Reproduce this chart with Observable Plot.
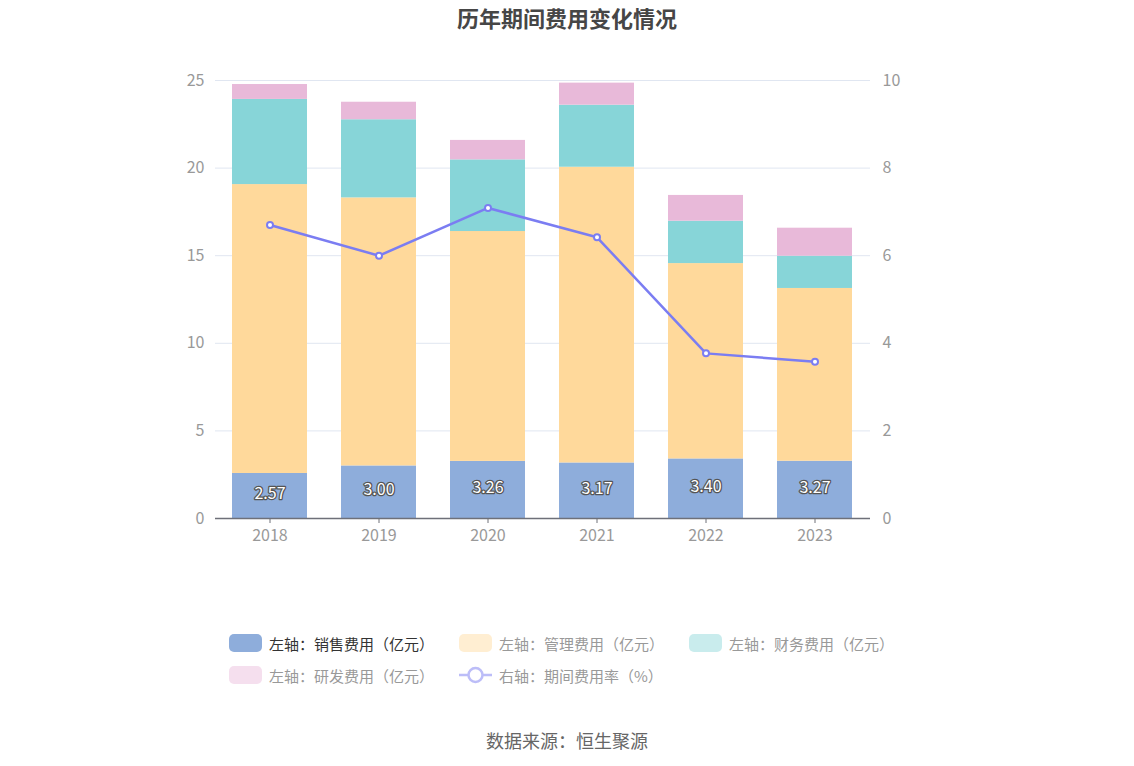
<!DOCTYPE html>
<html>
<head>
<meta charset="utf-8">
<script src="https://cdn.jsdelivr.net/npm/d3@7"></script>
<script src="https://cdn.jsdelivr.net/npm/@observablehq/plot@0.6"></script>
<style>
  html, body { margin: 0; padding: 0; background: #fff; }
  body { width: 1134px; height: 766px; position: relative; overflow: hidden;
         font-family: "Noto Sans CJK SC", "Noto Sans", sans-serif; }
  #title { position: absolute; top: 1px; left: 0; width: 1134px; text-align: center;
           font-size: 22px; font-weight: bold; color: #464646; }
  #chart { position: absolute; top: 0; left: 0; }
  .leg { position: absolute; display: flex; align-items: center; font-size: 15px; color: #999; white-space: nowrap; }
  .sw { width: 33px; height: 18px; border-radius: 5px; margin-right: 7px; }
  #source { position: absolute; top: 727px; left: 0; width: 1134px; text-align: center; font-size: 18px; color: #666; }
</style>
</head>
<body>
<div id="chart"></div>
<div id="title">历年期间费用变化情况</div>
<div id="legend"></div>
<div id="source">数据来源：恒生聚源</div>
<script>
const years = ["2018", "2019", "2020", "2021", "2022", "2023"];
const sales = [2.57, 3.00, 3.26, 3.17, 3.40, 3.27];
const admin = [16.49, 15.30, 13.12, 16.88, 11.15, 9.86];
const finance = [4.86, 4.46, 4.09, 3.54, 2.42, 1.84];
const rnd = [0.85, 1.00, 1.11, 1.26, 1.47, 1.60];
const rate = [6.70, 6.00, 7.09, 6.42, 3.77, 3.58];
const seriesNames = ["左轴：销售费用（亿元）", "左轴：管理费用（亿元）", "左轴：财务费用（亿元）", "左轴：研发费用（亿元）"];
const lineName = "右轴：期间费用率（%）";
const colors = ["#8eaddb", "#ffd99b", "#87d5d8", "#e8b9d9"];
const lineColor = "#7b7df2";
const leftTicks = [0, 5, 10, 15, 20, 25];
const rightTicks = [0, 2, 4, 6, 8, 10];
const ratio = 25 / 10;

const seriesValues = [sales, admin, finance, rnd];
const stacked = [];
years.forEach((y, i) => {
  seriesValues.forEach((arr, s) => {
    stacked.push({year: y, series: seriesNames[s], value: arr[i]});
  });
});
const rateData = years.map((y, i) => ({year: y, rate: rate[i]}));
const salesData = years.map((y, i) => ({year: y, value: sales[i]}));

const font = "'Noto Sans CJK SC', 'Noto Sans', sans-serif";

const chart = Plot.plot({
  width: 1134,
  height: 766,
  marginLeft: 215,
  marginRight: 264,
  marginTop: 80,
  marginBottom: 248,
  style: {fontFamily: font, fontSize: "15px", color: "#999", background: "transparent"},
  x: {domain: years, paddingInner: 0.31, paddingOuter: 0.155, axis: null},
  y: {domain: [0, 25], axis: null},
  color: {domain: seriesNames, range: colors},
  marks: [
    Plot.ruleY(leftTicks.filter(d => d > 0), {stroke: "#e0e6f1", strokeWidth: 1}),
    Plot.barY(stacked, {x: "year", y: "value", fill: "series", order: null}),
    Plot.ruleY([0], {stroke: "#6e7079", strokeWidth: 1.5}),
    Plot.axisX({tickSize: 5, tickPadding: 6, stroke: "#6e7079", fill: "#999", fontSize: 16, label: null}),
    Plot.axisY({anchor: "left", ticks: leftTicks, tickSize: 0, tickPadding: 11, fill: "#999", fontSize: 16, label: null}),
    Plot.axisY({anchor: "right", ticks: rightTicks.map(d => d * ratio), tickFormat: d => String(Math.round(d / ratio)), tickSize: 0, tickPadding: 12, fill: "#999", fontSize: 16, label: null}),
    Plot.lineY(rateData, {x: "year", y: d => d.rate * ratio, stroke: lineColor, strokeWidth: 2.5}),
    Plot.dot(rateData, {x: "year", y: d => d.rate * ratio, r: 3, fill: "#fff", stroke: lineColor, strokeWidth: 2}),
    Plot.text(salesData, {x: "year", y: d => d.value / 2, text: d => d.value.toFixed(2), dy: -2, fill: "#fff", stroke: "#555", strokeWidth: 2.5, fontSize: 16, paintOrder: "stroke"})
  ]
});
document.getElementById("chart").appendChild(chart);

// legend
const legend = document.getElementById("legend");
const items = [
  {name: seriesNames[0], color: colors[0], active: true, x: 229, y: 643},
  {name: seriesNames[1], color: colors[1], active: false, x: 459, y: 643},
  {name: seriesNames[2], color: colors[2], active: false, x: 689, y: 643},
  {name: seriesNames[3], color: colors[3], active: false, x: 229, y: 675},
  {name: lineName, color: lineColor, active: false, x: 459, y: 675, line: true}
];
items.forEach(it => {
  const d = document.createElement("div");
  d.className = "leg";
  d.style.left = it.x + "px";
  d.style.top = (it.y - 12) + "px";
  d.style.height = "24px";
  if (it.line) {
    const svgNS = "http://www.w3.org/2000/svg";
    const s = document.createElementNS(svgNS, "svg");
    s.setAttribute("width", 33); s.setAttribute("height", 20);
    s.style.marginRight = "7px";
    s.innerHTML = `<g opacity="0.5"><line x1="0" y1="10" x2="33" y2="10" stroke="${it.color}" stroke-width="2.5"/><circle cx="16.5" cy="10" r="7" fill="#fff" stroke="${it.color}" stroke-width="2.5"/></g>`;
    d.appendChild(s);
  } else {
    const sw = document.createElement("div");
    sw.className = "sw";
    sw.style.background = it.color;
    sw.style.opacity = it.active ? 1 : 0.45;
    d.appendChild(sw);
  }
  const t = document.createElement("span");
  t.textContent = it.name;
  t.style.color = it.active ? "#333" : "#999";
  d.appendChild(t);
  legend.appendChild(d);
});
</script>
</body>
</html>
